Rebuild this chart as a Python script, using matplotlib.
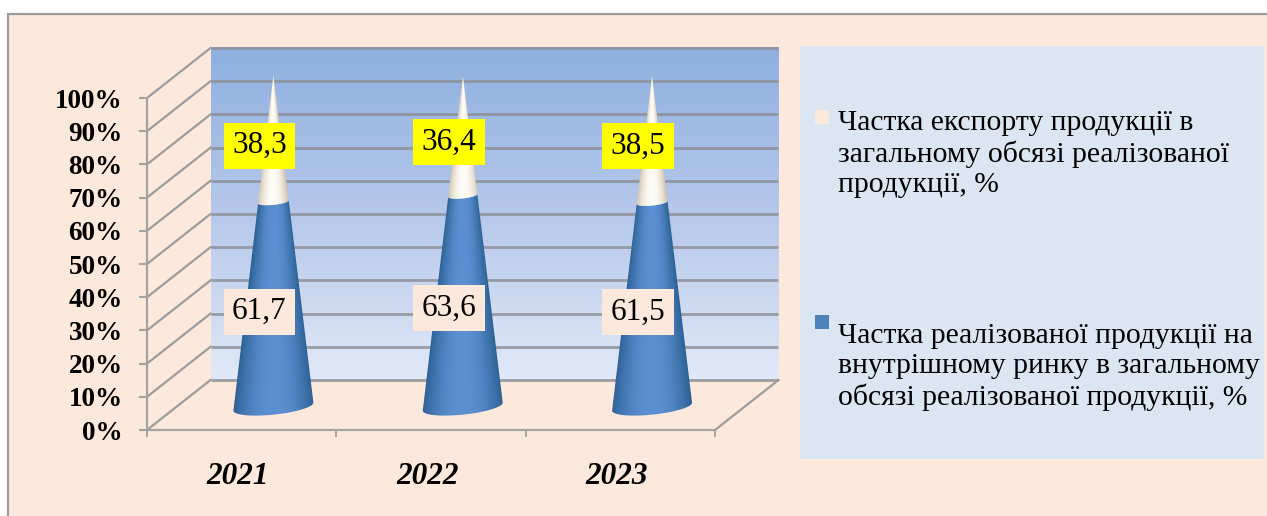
import numpy as np
import matplotlib
matplotlib.use("Agg")
import matplotlib.pyplot as plt
from matplotlib.patches import Rectangle, PathPatch
from matplotlib.path import Path
from matplotlib.colors import to_rgb

plt.rcParams['font.family'] = ['Liberation Serif', 'DejaVu Serif']

years = ['2021', '2022', '2023']
domestic = [61.7, 63.6, 61.5]
export = [38.3, 36.4, 38.5]
domestic_labels = ['61,7', '63,6', '61,5']
export_labels = ['38,3', '36,4', '38,5']
y_ticks = list(range(0, 101, 10))
y_tick_labels = [f'{v}%' for v in y_ticks]
legend_export = 'Частка експорту продукції в\nзагальному обсязі реалізованої\nпродукції, %'
legend_domestic = 'Частка реалізованої продукції на\nвнутрішному ринку в загальному\nобсязі реалізованої продукції, %'

W, H = 1267, 516
BG = '#fde9db'
GRID = '#8d9097'
AX = '#a3a3a3'
fig = plt.figure(figsize=(W / 100, H / 100), dpi=100, facecolor='white')


def fx(x):
    return x / W


def fy(y):
    return 1 - y / H


def frect(x0, y0, x1, y1, **kw):
    fig.add_artist(Rectangle((fx(x0), fy(y1)), (x1 - x0) / W, (y1 - y0) / H,
                             transform=fig.transFigure, **kw))


# page background and frame
frect(8, 14, W + 5, H + 5, facecolor=BG, edgecolor='#9b9b9b', linewidth=1.6, zorder=0)
# legend panel
frect(800, 46, 1264, 458.5, facecolor='#dce6f2', edgecolor='none', zorder=0.5)

ax = fig.add_axes([fx(147), fy(430), (715 - 147) / W, (430 - 98) / H])
ax.patch.set_alpha(0)
PX = 568 / 3
PY = 332 / 100
DX = 63.5 / PX
DY = 50 / PY

# back wall
grad = np.linspace(0, 1, 256)[:, None]
stops = np.array([0, 0.5, 1.0])
cols = np.array([to_rgb('#8eb0e0'), to_rgb('#b6c8ea'), to_rgb('#e0e9f7')])
wall = np.dstack([np.interp(grad[:, 0], stops, cols[:, k]) for k in range(3)]).reshape(256, 1, 3)
ax.imshow(wall, extent=[DX, 3 + DX, DY, 100 + DY], origin='upper', aspect='auto',
          clip_on=False, zorder=1, interpolation='bilinear')

# grid on the wall and side
for v in y_ticks:
    ax.plot([DX, 3 + DX], [v + DY, v + DY], color=GRID, lw=2.0, alpha=0.85,
            clip_on=False, zorder=2, solid_capstyle='butt')
    ax.plot([0, DX], [v, v + DY], color='#9c9c9c', lw=1.6, clip_on=False, zorder=2)
ax.plot([3, 3 + DX], [0, DY], color='#9c9c9c', lw=1.6, clip_on=False, zorder=2)


def cone_image(xc, half, y_top, y0, total, edge, mid, zorder, clip):
    ny, nx = 300, 240
    xs = np.linspace(-half, half, nx)
    ys = np.linspace(y_top, y0, ny)
    width = np.maximum(half * (total - (ys - y0)) / total, 1e-4)
    t = np.clip(np.abs(xs[None, :] - 0.0) / width[:, None], 0, 1) ** 2
    e, m = np.array(to_rgb(edge)), np.array(to_rgb(mid))
    img = m[None, None, :] + (e - m)[None, None, :] * t[:, :, None]
    im = ax.imshow(img, extent=[xc - half, xc + half, y0, y_top], origin='upper',
                   aspect='auto', zorder=zorder, clip_on=True, interpolation='bilinear')
    im.set_clip_box(fig.bbox)
    im.set_clip_path(clip)
    return im


HALF = 40 / PX
TILT = 0.1  # rise of the ellipse, px per px
MINOR = 0.2  # ellipse ratio


def arc(xc, yc, half_x, start, stop, n=40):
    th = np.linspace(start, stop, n)
    dx_px = half_x * PX * np.cos(th)
    dy_px = half_x * PX * MINOR * np.sin(th) + TILT * dx_px
    return xc + dx_px / PX, yc + dy_px / PY


def seg_patch(xc, y0, total, v0, v1, z):
    hw0 = HALF * (1 - v0 / total)
    hw1 = HALF * (1 - v1 / total)
    ax0, ay0 = arc(xc, y0 + v0, hw0, np.pi, 2 * np.pi)
    ax1, ay1 = arc(xc, y0 + v1, hw1, 0, -np.pi)
    pts = np.r_[np.c_[ax0, ay0], np.c_[ax1, ay1], [[ax0[0], ay0[0]]]]
    codes = [Path.MOVETO] + [Path.LINETO] * (len(pts) - 2) + [Path.CLOSEPOLY]
    p = PathPatch(Path(pts, codes), transform=ax.transData, facecolor='none',
                  edgecolor='none', zorder=z, clip_on=False)
    ax.add_patch(p)
    return p


for i, (d, e) in enumerate(zip(domestic, export)):
    total = d + e
    xc = i + 0.5 + DX / 2
    y0 = DY / 2 - 0.5
    p_low = seg_patch(xc, y0, total, 0, d, 3)
    cone_image(xc, HALF * 1.02, y0 + d + 2, y0 - 4, total + 4, '#2f6398', '#5c90d2', 3, p_low)
    p_top = seg_patch(xc, y0, total, d, total, 4)
    cone_image(xc, HALF * 0.5, y0 + total + 1, y0 + d - 4, total - d + 5, '#c0ae94', '#fffdf8', 4, p_top)

# axes dressing
ax.set_xlim(0, 3)
ax.set_ylim(0, 100)
for s in ('top', 'right'):
    ax.spines[s].set_visible(False)
for s in ('left', 'bottom'):
    ax.spines[s].set_color(AX)
    ax.spines[s].set_linewidth(1.6)
    ax.spines[s].set_zorder(2)
ax.set_yticks(y_ticks, y_tick_labels, fontsize=19.5, fontweight='bold')
ax.tick_params(axis='y', length=5.5, width=1.5, color=AX, pad=12)
ax.set_xticks(range(4), [''] * 4)
ax.set_xticks([0.48, 1.48, 2.48], years, minor=True, fontsize=22.5, fontweight='bold', fontstyle='italic')
ax.tick_params(axis='x', which='major', length=5, width=1.3, color=AX)
ax.tick_params(axis='x', which='minor', length=0, pad=23)

# data labels
for i, (d, e) in enumerate(zip(domestic, export)):
    xc = i + 0.5 + DX / 2
    y0 = DY / 2
    for val, lab, fc in ((d / 2, domestic_labels[i], BG), (d + e / 2, export_labels[i], '#ffff00')):
        ax.annotate(lab, (xc, y0 + val), xytext=(-14, -9), textcoords='offset pixels',
                    ha='center', va='center', fontsize=22.5, color='black', zorder=6,
                    annotation_clip=False,
                    bbox=dict(boxstyle='square,pad=0.27', fc=fc, ec='none'))

# legend
for y, col, txt, cy in ((110, BG, legend_export, 154), (315, '#4f81bd', legend_domestic, 367)):
    frect(815, y, 829, y + 14, facecolor=col, edgecolor='none', zorder=5)
    fig.text(fx(838), fy(cy), txt, ha='left', va='center', fontsize=21.3, color='black',
             linespacing=1.2, zorder=5)

fig.savefig('out.png', dpi=100, facecolor='white')
